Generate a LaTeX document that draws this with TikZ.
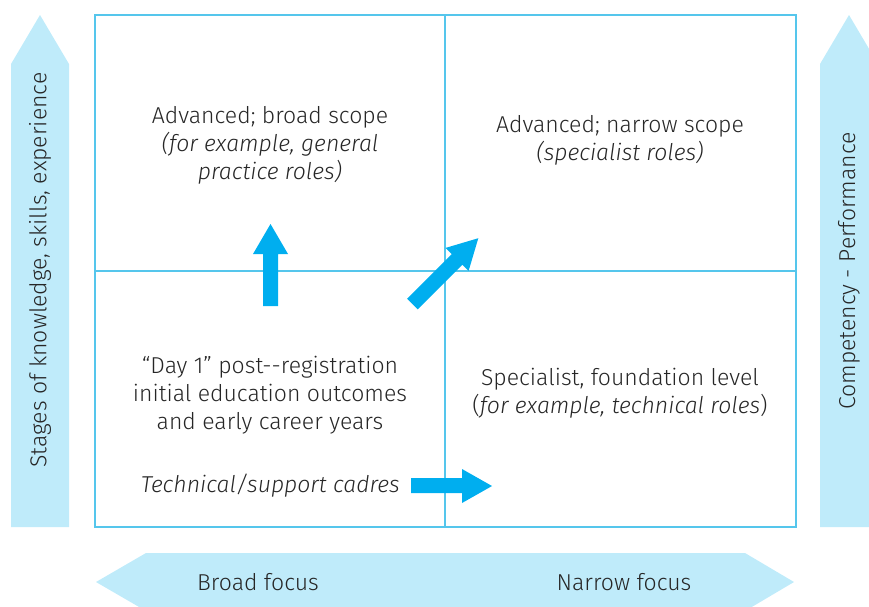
\documentclass[tikz,border=0pt]{standalone}
\usepackage{fontspec}
\setmainfont{Fira Sans Light}[ItalicFont={Fira Sans Light Italic}]
\definecolor{pale}{HTML}{BFEBFA}
\definecolor{frame}{HTML}{55C6EC}
\definecolor{arrowblue}{HTML}{00AEEF}
\definecolor{ink}{HTML}{262626}
\tikzset{
  label/.style={text=ink, font=\fontsize{23}{28}\selectfont, align=center, inner sep=0pt},
  side/.style={text=ink, font=\fontsize{23}{28}\selectfont, inner sep=0pt},
  pale/.style={fill=pale, draw=none},
  bluearrow/.style={fill=arrowblue, draw=none},
  divider/.style={draw=frame, line width=1.3pt},
}
\begin{document}
\begin{tikzpicture}[x=1pt,y=-1pt]
\useasboundingbox (0,0) rectangle (869,606);
\clip (0,0) rectangle (869,606);
% side arrows
\fill[pale] (11,527) -- (11,64) -- (40,15) -- (69,64) -- (69,527) -- cycle;
\fill[pale] (820,527) -- (820,64) -- (849,15) -- (878,64) -- (878,527) -- cycle;
\fill[pale] (96,582) -- (146,553) -- (745,553) -- (794,582) -- (745,611) -- (146,611) -- cycle;
% frame
\draw[frame, line width=1.4pt] (95,15) rectangle (796,527);
\draw[divider] (445,15) -- (445,527);
\draw[divider] (95,271) -- (796,271);
% blue arrows
\fill[bluearrow] (263,306) -- (263,254) -- (253,254) -- (270.5,224) -- (288,254) -- (278,254) -- (278,306) -- cycle;
\fill[bluearrow] (417.8,309.3) -- (407.2,298.7) -- (451.8,254.1) -- (445.6,247.9) -- (478.3,238.2) -- (468.6,270.9) -- (462.4,264.7) -- cycle;
\fill[bluearrow] (411,478) -- (462,478) -- (462,469) -- (492,486) -- (462,503) -- (462,493) -- (411,493) -- cycle;
% texts
\node[label] (q1) at (270,145) {Advanced; broad scope\\\itshape (for example, general\\\itshape practice roles)};
\node[label] (q2) at (620,140) {Advanced; narrow scope\\\itshape (specialist roles)};
\node[label] (q3) at (270,395) {“Day 1” post-{}-registration\\initial education outcomes\\and early career years};
\node[label, anchor=east] (q3b) at (400,486) {\itshape Technical/support cadres};
\node[label] (q4) at (620,393) {Specialist, foundation level\\(\textit{for example, technical roles})};
\node[side] (bf) at (258,582) {Broad focus};
\node[side] (nf) at (624,582) {Narrow focus};
\node[side, rotate=90] (ls) at (40,270) {Stages of knowledge, skills, experience};
\node[side, rotate=90] (rs) at (849,271) {Competency - Performance};
\end{tikzpicture}
\end{document}
